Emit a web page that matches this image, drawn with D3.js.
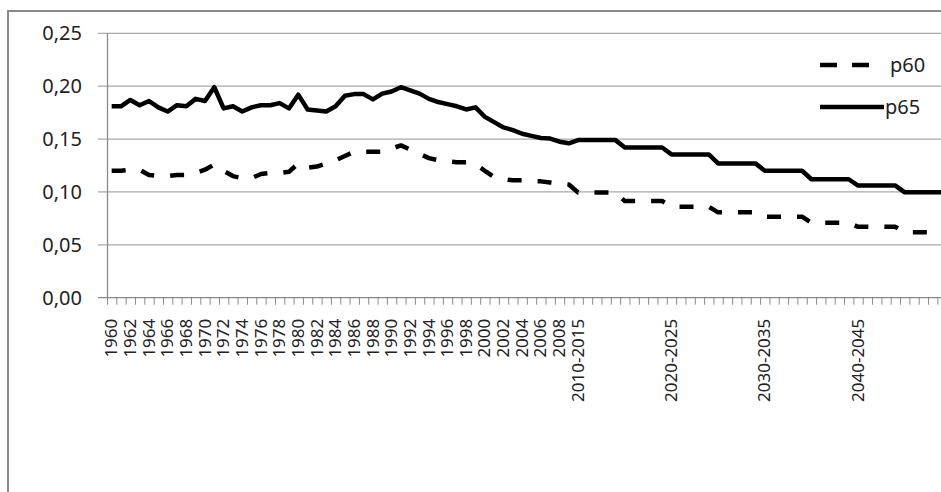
<!DOCTYPE html>
<html>
<head>
  <meta charset="utf-8">
  <script src="https://cdn.jsdelivr.net/npm/d3@7"></script>
  <style>
    body { margin: 0; background: #fff; }
    text { font-family: "Noto Sans", "Open Sans", sans-serif; fill: #222; }
  </style>
</head>
<body>
  <svg width="941" height="492" id="mainsvg"></svg>
  <script>
      // category labels (one per year, then 5-year periods; blanks inside periods)
      const categories = [
        '1960','1961','1962','1963','1964','1965','1966','1967','1968','1969',
        '1970','1971','1972','1973','1974','1975','1976','1977','1978','1979',
        '1980','1981','1982','1983','1984','1985','1986','1987','1988','1989',
        '1990','1991','1992','1993','1994','1995','1996','1997','1998','1999',
        '2000','2001','2002','2003','2004','2005','2006','2007','2008','2009',
        '2010-2015','','','','', '2015-2020','','','','',
        '2020-2025','','','','', '2025-2030','','','','',
        '2030-2035','','','','', '2035-2040','','','','',
        '2040-2045','','','','', '2045-2050','','','',''
      ];
      const p60 = [
        0.120,0.120,0.121,0.121,0.116,0.115,0.115,0.116,0.116,0.118,
        0.121,0.126,0.120,0.115,0.113,0.113,0.117,0.118,0.118,0.119,
        0.127,0.123,0.124,0.127,0.130,0.134,0.138,0.138,0.138,0.138,
        0.141,0.144,0.140,0.136,0.132,0.130,0.129,0.128,0.128,0.126,
        0.120,0.114,0.112,0.111,0.111,0.110,0.110,0.109,0.108,0.107,
        0.0995,0.0995,0.0995,0.0995,0.0995, 0.0914,0.0914,0.0914,0.0914,0.0914,
        0.086,0.086,0.086,0.086,0.086, 0.0807,0.0807,0.0807,0.0807,0.0807,
        0.0766,0.0766,0.0766,0.0766,0.0766, 0.0709,0.0709,0.0709,0.0709,0.0709,
        0.067,0.067,0.067,0.067,0.067, 0.0618,0.0618,0.0618,0.0618,0.0618
      ];
      const p65 = [
        0.181,0.181,0.187,0.182,0.186,0.180,0.176,0.182,0.181,0.188,
        0.186,0.199,0.179,0.181,0.176,0.180,0.182,0.182,0.184,0.179,
        0.192,0.178,0.177,0.176,0.181,0.191,0.1925,0.1925,0.1875,0.193,
        0.195,0.199,0.196,0.193,0.188,0.185,0.183,0.181,0.178,0.180,
        0.171,0.166,0.161,0.1585,0.155,0.153,0.151,0.1505,0.1475,0.146,
        0.149,0.149,0.149,0.149,0.149, 0.142,0.142,0.142,0.142,0.142,
        0.1355,0.1355,0.1355,0.1355,0.1355, 0.127,0.127,0.127,0.127,0.127,
        0.120,0.120,0.120,0.120,0.120, 0.112,0.112,0.112,0.112,0.112,
        0.106,0.106,0.106,0.106,0.106, 0.0996,0.0996,0.0996,0.0996,0.0996
      ];
      const yTicks = [0, 0.05, 0.10, 0.15, 0.20, 0.25];
      const seriesNames = ['p60', 'p65'];

      const svg = d3.select('#mainsvg');
      const margin = {top: 33.3, left: 107};
      const bandW = 9.33;
      const plotRight = margin.left + bandW * categories.length;
      const plotBottom = 297.7;

      // outer chart frame (cropped on the right and bottom)
      svg.append('path')
        .attr('d', `M8,500 L8,11 L950,11`)
        .attr('fill', 'none').attr('stroke', '#8a8a8a').attr('stroke-width', 2);

      const idx = categories.map((d, i) => i);
      const xScale = d3.scaleBand().domain(idx).range([margin.left, plotRight]).padding(0);
      const yScale = d3.scaleLinear().domain([0, 0.25]).range([plotBottom, margin.top]);
      const fmt = d => d3.format('.2f')(d).replace('.', ',');

      // gridlines
      svg.append('g').selectAll('line').data(yTicks).join('line')
        .attr('x1', margin.left - 9).attr('x2', plotRight)
        .attr('y1', d => yScale(d)).attr('y2', d => yScale(d))
        .attr('stroke', d => d === 0 ? '#8a8a8a' : '#a8a8a8').attr('stroke-width', 1.3);

      // y axis
      const yAxisGroup = svg.append('g').attr('transform', `translate(${margin.left},0)`)
        .call(d3.axisLeft(yScale).tickValues(yTicks).tickFormat(fmt).tickSize(0).tickPadding(25));
      yAxisGroup.select('.domain').attr('stroke', '#8a8a8a').attr('stroke-width', 1.3);
      yAxisGroup.selectAll('text').attr('font-size', '20px').attr('fill', '#222');

      // x axis: tick marks on category boundaries
      const edgeScale = d3.scaleLinear().domain([0, categories.length]).range([margin.left, plotRight]);
      const tickAxis = svg.append('g').attr('transform', `translate(0,${plotBottom})`)
        .call(d3.axisBottom(edgeScale).tickValues(d3.range(0, categories.length + 1)).tickFormat('').tickSize(7));
      tickAxis.select('.domain').remove();
      tickAxis.selectAll('line').attr('stroke', '#8a8a8a');

      // x axis labels: every second category, rotated
      const labelAxis = svg.append('g').attr('transform', `translate(0,${plotBottom})`)
        .call(d3.axisBottom(xScale).tickFormat(i => i % 2 === 0 ? categories[i] : '').tickSize(0));
      labelAxis.select('.domain').remove();
      labelAxis.selectAll('text')
        .attr('font-size', '17px').attr('fill', '#111')
        .attr('transform', 'rotate(-90)')
        .attr('x', -21).attr('y', 0).attr('dy', '0.33em')
        .style('text-anchor', 'end');

      const line = d3.line()
        .x((d, i) => xScale(i) + xScale.bandwidth() / 2)
        .y(d => yScale(d));

      svg.append('path').datum(p60).attr('d', line)
        .attr('fill', 'none').attr('stroke', '#000').attr('stroke-width', 4.5)
        .attr('stroke-dasharray', '14,16').attr('stroke-linejoin', 'round');
      svg.append('path').datum(p65).attr('d', line)
        .attr('fill', 'none').attr('stroke', '#000').attr('stroke-width', 4.5)
        .attr('stroke-linejoin', 'round');

      // legend
      const legend = svg.append('g');
      const legendY = [65, 107];
      seriesNames.forEach((name, i) => {
        legend.append('line')
          .attr('x1', 820).attr('x2', i === 0 ? 870 : 884)
          .attr('y1', legendY[i]).attr('y2', legendY[i])
          .attr('stroke', '#000').attr('stroke-width', 4.5)
          .attr('stroke-dasharray', i === 0 ? '17,15' : null);
        legend.append('text').attr('x', i === 0 ? 890 : 885).attr('y', legendY[i])
          .attr('dy', '0.35em').attr('font-size', '20px').text(name);
      });
  </script>
</body>
</html>
